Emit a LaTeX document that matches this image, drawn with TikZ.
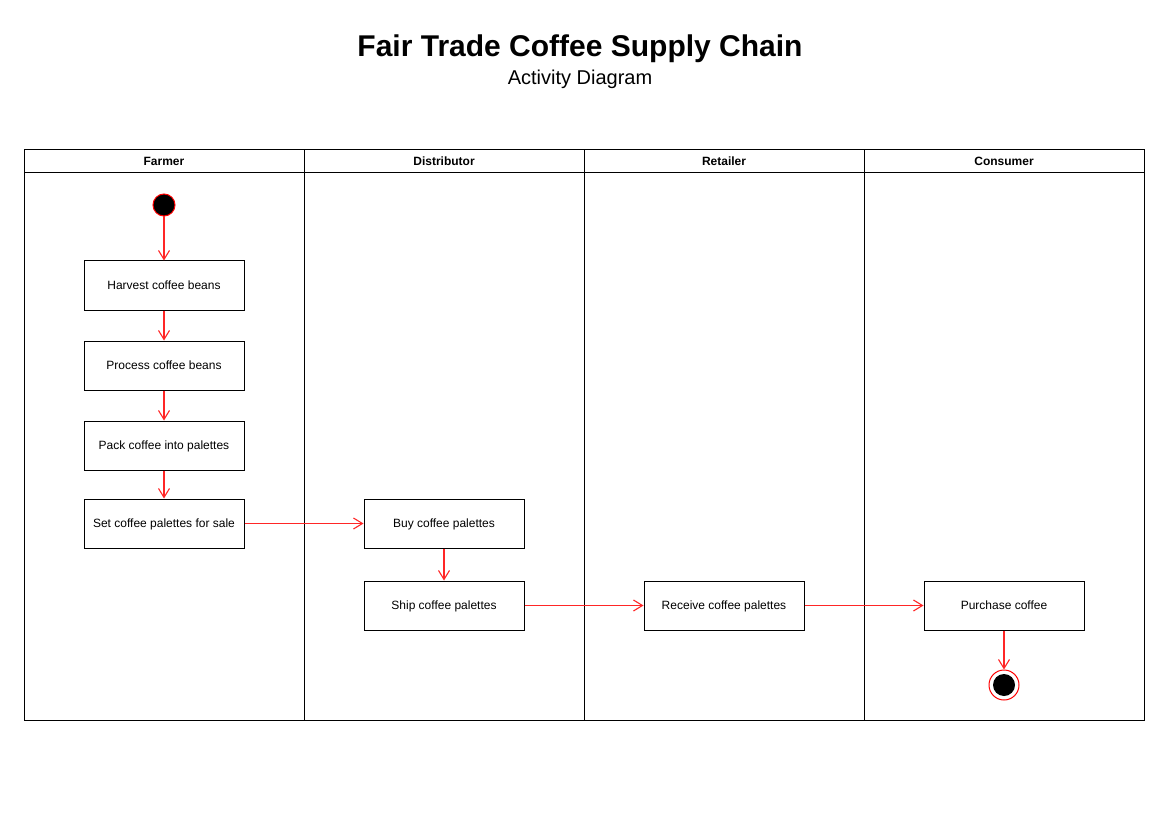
\documentclass[tikz,border=0pt]{standalone}
\usepackage{fontspec}
\setmainfont{Liberation Sans}
\usetikzlibrary{arrows.meta}
\begin{document}
\begin{tikzpicture}[x=1pt,y=-1pt,
  act/.style={draw=black,line width=1pt,minimum width=160pt,minimum height=49pt,inner sep=0pt,text height=8.5pt,text depth=1pt,font=\fontsize{12}{14}\selectfont},
  flow/.style={draw=red!85!white,line width=1.1pt,-{Straight Barb[length=9pt,width=11pt,line width=1.1pt]}},
  lanehead/.style={font=\bfseries\fontsize{12}{14}\selectfont,text height=8.5pt,text depth=1pt},
  lane/.style={draw=black,line width=1pt}]
\useasboundingbox (0,0) rectangle (1169,826);
\fill[white] (0,0) rectangle (1169,826);
% title
\node[font=\bfseries\fontsize{30}{34}\selectfont] (title) at (580,49) {Fair Trade Coffee Supply Chain};
\node[font=\fontsize{20}{24}\selectfont] (subtitle) at (580,79) {Activity Diagram};
% swimlanes
\draw[lane] (24,150) rectangle (1144,720);
\draw[lane] (24,173) -- (1144,173);
\draw[lane] (304,150) -- (304,720);
\draw[lane] (584,150) -- (584,720);
\draw[lane] (864,150) -- (864,720);
\node[lanehead] (h1) at (164,161.5) {Farmer};
\node[lanehead] (h2) at (444,161.5) {Distributor};
\node[lanehead] (h3) at (724,161.5) {Retailer};
\node[lanehead] (h4) at (1004,161.5) {Consumer};
% nodes
\node[circle,fill=black,draw=red,line width=1pt,minimum size=22pt,inner sep=0pt] (start) at (164,205) {};
\node[act] (harvest) at (164,285.5) {Harvest coffee beans};
\node[act] (process) at (164,365.5) {Process coffee beans};
\node[act] (pack) at (164,445.5) {Pack coffee into palettes};
\node[act] (set) at (164,523.5) {Set coffee palettes for sale};
\node[act] (buy) at (444,523.5) {Buy coffee palettes};
\node[act] (ship) at (444,605.5) {Ship coffee palettes};
\node[act] (receive) at (724,605.5) {Receive coffee palettes};
\node[act] (purchase) at (1004,605.5) {Purchase coffee};
\node[circle,draw=red,line width=1pt,fill=white,minimum size=30pt,inner sep=0pt] (end) at (1004,685) {};
\node[circle,fill=black,minimum size=22pt,inner sep=0pt] (endin) at (1004,685) {};
% flows
\draw[flow] (start) -- (harvest);
\draw[flow] (harvest) -- (process);
\draw[flow] (process) -- (pack);
\draw[flow] (pack) -- (set);
\draw[flow] (set) -- (buy);
\draw[flow] (buy) -- (ship);
\draw[flow] (ship) -- (receive);
\draw[flow] (receive) -- (purchase);
\draw[flow] (purchase) -- (end);
\end{tikzpicture}
\end{document}
